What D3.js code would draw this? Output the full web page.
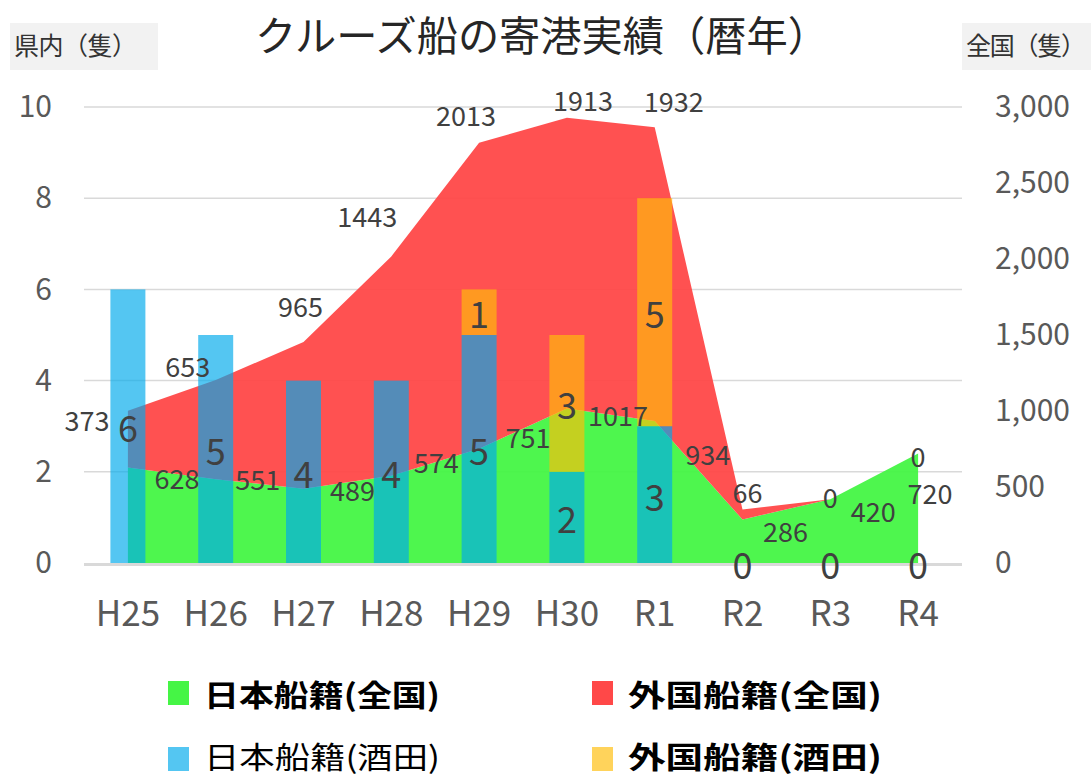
<!DOCTYPE html>
<html>
<head>
<meta charset="utf-8">
<script src="https://cdn.jsdelivr.net/npm/d3@7"></script>
<style>
  body { margin: 0; background: #fff; }
  svg text { font-family: "Noto Sans CJK JP", "Noto Sans", sans-serif; }
</style>
</head>
<body>
<div class="chart"></div>
<script>
// categories (calendar years)
const years = ["H25", "H26", "H27", "H28", "H29", "H30", "R1", "R2", "R3", "R4"];
// nationwide port calls (right axis)
const japanAll = [628, 551, 489, 574, 751, 1017, 934, 286, 420, 720];
const foreignAll = [373, 653, 965, 1443, 2013, 1913, 1932, 66, 0, 0];
// Sakata port calls (left axis)
const japanSakata = [6, 5, 4, 4, 5, 2, 3, 0, 0, 0];
const foreignSakata = [null, null, null, null, 1, 3, 5, null, null, null];

const leftTicks = [0, 2, 4, 6, 8, 10];
const rightTicks = [0, 500, 1000, 1500, 2000, 2500, 3000];

// manual label nudges (like the hand-placed labels in the original)
const foreignLabelNudge = [[-41, 9], [-28, -14], [-3, -36], [-24, -41], [-13, -28], [16, -18], [19, -27], [5, -18], [0, -3], [0, 2]];
const japanLabelNudge = [[49, 10], [42, -1], [49, 1], [45, -14], [49, -12], [51, 6], [53, 32], [43, 11], [43, 11], [12, 39]];

const W = 1091, H = 776;
const plot = { left: 84, right: 962, top: 107, bottom: 563 };

const colors = {
  japanAll: "#45f545",
  foreignAll: "#ff4848",
  japanSakata: "#00aaec",
  foreignSakata: "#ffbe0a",
};
const barOpacity = 0.67;

const svg = d3.select(".chart").append("svg")
  .attr("width", W)
  .attr("height", H);

const x = d3.scaleBand().domain(years).range([plot.left, plot.right]).padding(0);
const cx = (d) => x(d) + x.bandwidth() / 2;
const yL = d3.scaleLinear().domain([0, 10]).range([plot.bottom, plot.top]);
const yR = d3.scaleLinear().domain([0, 3000]).range([plot.bottom, plot.top]);

// title
svg.append("text")
  .attr("x", 255)
  .attr("y", 51)
  .attr("textLength", 574)
  .attr("lengthAdjust", "spacingAndGlyphs")
  .style("font-size", "41px")
  .style("fill", "#262626")
  .text("クルーズ船の寄港実績（暦年）");

// axis titles with grey box
svg.append("rect").attr("x", 10).attr("y", 23).attr("width", 148).attr("height", 47).attr("fill", "#f2f2f2");
svg.append("text").attr("x", 14).attr("y", 55)
  .attr("textLength", 123)
  .style("font-size", "25px").style("fill", "#333")
  .text("県内（隻）");
svg.append("rect").attr("x", 962).attr("y", 23).attr("width", 129).attr("height", 47).attr("fill", "#f2f2f2");
svg.append("text").attr("x", 966).attr("y", 55)
  .attr("textLength", 120)
  .style("font-size", "25px").style("fill", "#333")
  .text("全国（隻）");

// gridlines
svg.append("g")
  .selectAll("line")
  .data(leftTicks.slice(1))
  .enter()
  .append("line")
  .attr("x1", plot.left)
  .attr("x2", plot.right)
  .attr("y1", (d) => yL(d))
  .attr("y2", (d) => yL(d))
  .attr("stroke", "#d9d9d9")
  .attr("stroke-width", 1.5);

// stacked areas (nationwide)
const rows = years.map((y, i) => ({ year: y, japanAll: japanAll[i], foreignAll: foreignAll[i] }));
const stacked = d3.stack().keys(["japanAll", "foreignAll"])(rows);

const area = d3.area()
  .x((d) => cx(d.data.year))
  .y0((d) => yR(d[0]))
  .y1((d) => yR(d[1]));

svg.append("g")
  .selectAll("path")
  .data(stacked)
  .enter()
  .append("path")
  .attr("d", area)
  .attr("fill", (d) => colors[d.key])
  .attr("fill-opacity", 0.95);

// stacked bars (Sakata)
const barW = 35;
const bars = svg.append("g");
years.forEach((yr, i) => {
  const j = japanSakata[i];
  const f = foreignSakata[i] || 0;
  bars.append("rect")
    .attr("x", cx(yr) - barW / 2)
    .attr("y", yL(j))
    .attr("width", barW)
    .attr("height", yL(0) - yL(j))
    .attr("fill", colors.japanSakata)
    .attr("fill-opacity", barOpacity);
  if (f > 0) {
    bars.append("rect")
      .attr("x", cx(yr) - barW / 2)
      .attr("y", yL(j + f))
      .attr("width", barW)
      .attr("height", yL(j) - yL(j + f))
      .attr("fill", colors.foreignSakata)
      .attr("fill-opacity", barOpacity);
  }
});

// zero baseline
svg.append("line")
  .attr("x1", plot.left)
  .attr("x2", plot.right)
  .attr("y1", yL(0) + 1.5)
  .attr("y2", yL(0) + 1.5)
  .attr("stroke", "#d9d9d9")
  .attr("stroke-width", 3);

// axes
const axL = svg.append("g")
  .attr("transform", "translate(55,0)")
  .call(d3.axisLeft(yL).tickValues(leftTicks).tickSize(0).tickPadding(3));
const axR = svg.append("g")
  .attr("transform", "translate(990,0)")
  .call(d3.axisRight(yR).tickValues(rightTicks).tickSize(0).tickPadding(5).tickFormat(d3.format(",")));
const axB = svg.append("g")
  .attr("transform", "translate(0," + plot.bottom + ")")
  .call(d3.axisBottom(x).tickSize(0).tickPadding(38));
[axL, axR, axB].forEach((g) => {
  g.select(".domain").remove();
  g.selectAll("text")
    .style("font-family", "'Noto Sans CJK JP', sans-serif")
    .style("fill", "#595959");
});
axL.selectAll("text").style("font-size", "30px");
axR.selectAll("text").style("font-size", "30px");
axB.selectAll("text").style("font-size", "35px");

// area data labels
const labels = svg.append("g")
  .style("fill", "#404040")
  .attr("text-anchor", "middle")
  .attr("dominant-baseline", "central");

years.forEach((yr, i) => {
  const top = japanAll[i] + foreignAll[i];
  labels.append("text")
    .attr("x", cx(yr) + foreignLabelNudge[i][0])
    .attr("y", yR(top) + foreignLabelNudge[i][1])
    .style("font-size", "27px")
    .text(foreignAll[i]);
  labels.append("text")
    .attr("x", cx(yr) + japanLabelNudge[i][0])
    .attr("y", yR(japanAll[i]) + japanLabelNudge[i][1])
    .style("font-size", "27px")
    .text(japanAll[i]);
});

// bar data labels
years.forEach((yr, i) => {
  const j = japanSakata[i];
  labels.append("text")
    .attr("x", cx(yr))
    .attr("y", (yL(0) + yL(j)) / 2)
    .style("font-size", "36px")
    .text(j);
  const f = foreignSakata[i];
  if (f != null) {
    labels.append("text")
      .attr("x", cx(yr))
      .attr("y", (yL(j) + yL(j + f)) / 2)
      .style("font-size", "36px")
      .text(f);
  }
});

// legend
const legendItems = [
  { key: "japanAll", label: "日本船籍(全国)", bold: true, col: 0, row: 0, op: 1 },
  { key: "foreignAll", label: "外国船籍(全国)", bold: true, col: 1, row: 0, op: 1 },
  { key: "japanSakata", label: "日本船籍(酒田)", bold: false, col: 0, row: 1, op: barOpacity },
  { key: "foreignSakata", label: "外国船籍(酒田)", bold: true, col: 1, row: 1, op: barOpacity },
];
const legend = svg.append("g");
legendItems.forEach((d) => {
  const lx = d.col === 0 ? 168 : 592;
  const ly = d.row === 0 ? 693 : 755;
  legend.append("rect")
    .attr("x", lx)
    .attr("y", (d.row === 0 ? ly : 759) - 12)
    .attr("width", 21)
    .attr("height", 24)
    .attr("fill", colors[d.key])
    .attr("fill-opacity", d.op);
  legend.append("text")
    .attr("x", lx + 36)
    .attr("y", ly)
    .attr("dominant-baseline", "central")
    .attr("textLength", d.col === 0 ? 236 : 254)
    .attr("lengthAdjust", "spacingAndGlyphs")
    .style("font-size", "30px")
    .style("font-weight", d.bold ? "bold" : "normal")
    .style("fill", "#000")
    .text(d.label);
});
</script>
</body>
</html>
